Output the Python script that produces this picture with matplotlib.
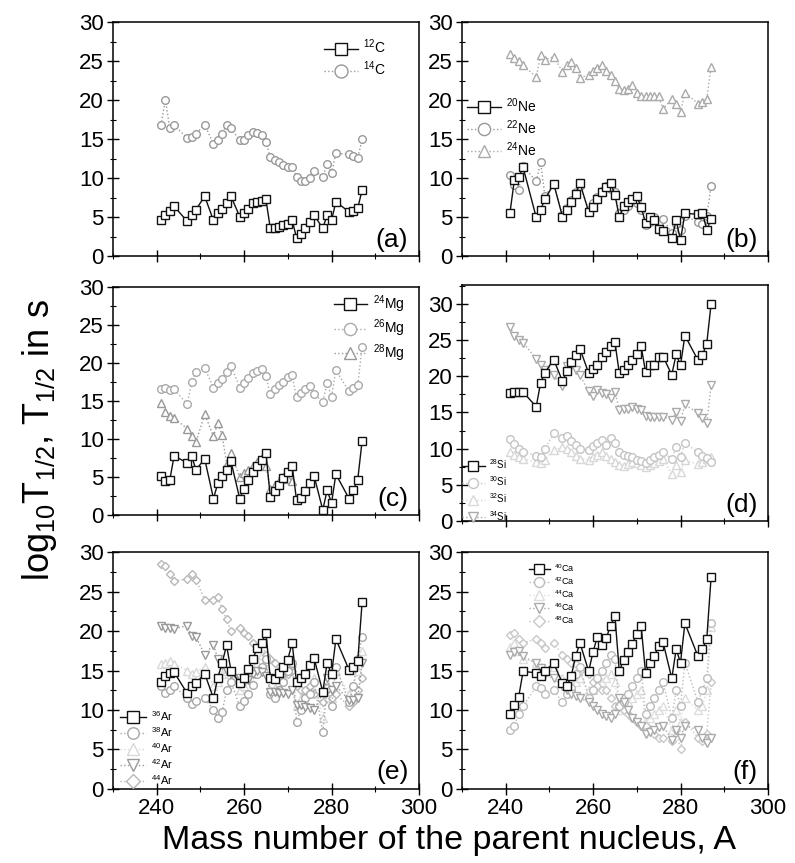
import numpy as np
import matplotlib
matplotlib.use('Agg')
import matplotlib.pyplot as plt
from matplotlib.ticker import MultipleLocator

nan = np.nan

# parent mass numbers (shared by every panel)
A = [241, 242, 243, 244, 247, 248, 249, 251, 253, 254, 255, 256, 257, 259, 260,
     261, 262, 263, 264, 265, 266, 267, 268, 269, 270, 271, 272, 273, 274, 275,
     276, 278, 279, 280, 281, 284, 285, 286, 287]

# (a) carbon
c12 = [4.6, 5.3, 5.8, 6.4, 4.5, 5.3, 6.0, 7.7, 4.6, 5.5, 6.1, 6.8, 7.7, 5.1, 5.5,
       6.1, 6.8, 7.0, 7.1, 7.3, 3.6, 3.6, 3.8, 4.0, 4.2, 4.6, 2.4, 2.9, 3.6, 4.4,
       5.3, 3.6, 5.3, 4.6, 7.0, 5.7, 5.8, 6.2, 8.5]
c14 = [16.8, 20.1, 16.5, 16.8, 15.2, 15.3, 15.7, 16.9, 14.4, 14.9, 15.7, 16.9, 16.4, 14.9, 14.9,
       15.5, 15.9, 15.8, 15.5, 14.7, 12.7, 12.3, 12.1, 11.7, 11.5, 11.5, 10.2, 9.7, 9.7, 10.0,
       11.0, 10.2, 11.9, 10.7, 13.2, 13.1, 12.9, 12.6, 15.0]

# (b) neon
ne20 = [5.6, 9.8, 10.2, 11.4, 5.0, 6.0, 7.3, 9.3, 5.1, 5.9, 7.0, 8.0, 9.4, 5.7, 6.3,
        7.3, 8.3, 8.9, 9.4, 7.9, 5.0, 6.4, 7.0, 7.3, 7.7, 6.3, 4.3, 5.1, 4.6, 3.5,
        3.3, 2.3, 4.6, 2.1, 5.5, 5.4, 5.6, 3.4, 4.8]
ne22 = [10.4, 9.2, 8.5, 11.6, 9.6, 12.1, 7.7, 9.3, 5.3, 6.2, 7.2, 8.2, 9.0, 6.0, 6.8,
        7.6, 8.4, 9.0, 8.6, 8.2, 5.5, 6.0, 6.5, 7.2, 6.8, 5.9, 4.0, 4.4, 5.0, 4.3,
        4.8, 3.0, 4.1, 3.4, 5.2, 4.4, 4.2, 5.2, 9.0]
ne24 = [26.0, 25.5, 25.0, 24.5, 23.0, 25.8, 25.2, 25.6, 23.7, 24.5, 24.9, 24.2, 22.9, 23.3, 23.8,
        24.2, 24.5, 23.8, 23.2, 22.5, 21.5, 21.3, 21.5, 22.0, 21.0, 20.6, 20.6, 20.5, 20.6, 20.5,
        18.9, 20.2, 19.5, 18.5, 21.0, 19.6, 19.8, 20.2, 24.3]

# (c) magnesium
mg24 = [5.2, 4.5, 4.6, 7.8, 6.9, 7.8, 6.0, 7.4, 2.2, 4.2, 5.1, 6.0, 7.1, 2.2, 3.5,
        4.6, 5.7, 6.5, 7.3, 8.2, 2.4, 3.2, 4.0, 4.9, 5.7, 6.5, 2.0, 2.3, 3.2, 4.2,
        5.2, 0.7, 3.3, 1.6, 5.4, 2.2, 3.3, 4.7, 9.8]
mg26 = [16.6, 16.8, 16.5, 16.6, 14.6, 17.5, 18.9, 19.4, 16.8, 17.4, 18.0, 18.9, 19.7, 16.8, 17.4,
        18.1, 18.7, 19.0, 19.2, 18.3, 15.9, 16.6, 17.2, 17.6, 18.2, 18.4, 15.5, 16.1, 16.6, 17.0,
        16.0, 14.9, 17.4, 15.6, 19.1, 16.3, 16.8, 17.2, 22.1]
mg28 = [14.8, 13.6, 13.1, 12.8, 11.4, 10.4, 9.6, 13.3, 10.4, 12.1, 10.5, 6.8, 8.2, 5.0, 5.5,
        6.0, 6.5, 7.0, 7.5, 6.5, 3.5, 4.0, 4.5, 5.0, 4.8, 4.5, nan, nan, nan, nan,
        nan, nan, nan, nan, nan, nan, nan, nan, nan]

# (d) silicon
si28 = [17.7, 17.8, 17.8, 17.8, 15.8, 19.1, 20.5, 22.3, 19.3, 20.7, 21.9, 22.9, 23.8, 20.4, 21.0,
        21.6, 22.7, 23.3, 24.1, 24.7, 20.4, 20.9, 21.6, 22.3, 23.0, 24.1, 20.6, 21.5, 21.5, 22.7,
        22.7, 20.2, 23.0, 21.5, 25.6, 22.2, 22.9, 24.5, 30.0]
si30 = [11.3, 10.6, 10.0, 9.6, 9.0, 8.8, 10.0, 12.1, 11.5, 11.8, 11.0, 10.5, 10.0, 9.8, 10.4,
        10.8, 11.2, 10.5, 11.5, 10.8, 9.5, 9.2, 9.0, 8.8, 8.5, 8.3, 8.0, 8.4, 8.8, 9.1,
        9.5, 8.6, 10.3, 8.9, 10.8, 9.5, 9.0, 8.7, 8.2]
si32 = [9.5, 9.2, 8.9, 8.6, 8.2, 8.0, 8.5, 9.8, 10.2, 9.9, 9.5, 9.0, 8.6, 8.5, 8.8,
        9.2, 9.6, 9.0, 8.6, 8.2, 7.8, 7.6, 7.9, 8.2, 8.0, 7.7, 7.5, 7.8, 8.0, 8.3,
        8.6, 6.5, 7.8, 6.8, 8.4, 7.9, 8.1, 8.6, 8.9]
si34 = [26.8, 25.5, 25.0, 24.6, 22.4, 21.6, 20.9, 20.1, 18.6, 21.4, 21.6, 20.9, 20.1, 17.9, 17.3,
        18.1, 17.7, 17.6, 17.0, 17.8, 15.4, 15.5, 15.5, 15.7, 15.5, 15.4, 14.5, 14.4, 14.4, 14.4,
        14.4, 14.0, 15.1, 13.8, 16.1, 14.9, 14.2, 13.5, 18.8]

# (e) argon
ar36 = [13.5, 14.3, 14.7, 14.8, 12.1, 13.0, 13.4, 14.6, 11.5, 14.1, 16.0, 18.2, 15.0, 13.4, 14.1,
        15.2, 16.5, 17.8, 18.5, 19.8, 14.0, 13.9, 14.7, 15.5, 16.4, 18.5, 13.5, 14.0, 14.6, 15.7,
        16.6, 12.3, 16.0, 14.5, 19.0, 15.1, 15.5, 16.2, 23.7]
ar38 = [13.0, 12.2, 12.5, 13.0, 11.5, 10.8, 11.2, 11.5, 10.0, 9.0, 9.8, 12.5, 13.5, 10.5, 11.2,
        12.0, 13.2, 14.5, 15.5, 16.5, 12.0, 11.5, 12.5, 13.5, 15.0, 16.0, 8.5, 10.0, 11.5, 12.0,
        13.5, 7.2, 12.8, 10.5, 15.5, 11.0, 13.0, 16.5, 19.3]
ar40 = [15.8, 16.0, 16.2, 15.8, 15.0, 14.5, 14.8, 15.5, 13.0, 13.5, 14.5, 15.0, 14.5, 12.5, 13.0,
        14.0, 15.0, 16.0, 17.0, 16.5, 12.5, 12.8, 13.5, 14.2, 15.0, 16.0, 10.5, 11.5, 12.5, 13.0,
        14.0, 9.0, 13.0, 11.5, 15.0, 12.0, 13.0, 15.0, 17.5]
ar42 = [20.7, 20.4, 20.4, 20.3, 20.7, 19.4, 19.3, 17.0, 18.3, 16.5, 15.7, 14.9, 14.5, 14.0, 13.5,
        13.8, 14.5, 15.0, 14.8, 14.3, 12.3, 12.3, 12.2, 12.1, 12.0, 12.5, 10.6, 10.6, 10.4, 10.2,
        10.0, 12.1, 14.0, 12.5, 13.0, 11.3, 11.3, 11.5, 16.0]
ar44 = [28.5, 28.3, 27.2, 26.4, 26.6, 27.2, 26.5, 24.0, 24.0, 24.3, 22.8, 21.5, 20.0, 20.4, 19.8,
        19.4, 18.5, 18.0, 18.5, 17.0, 16.5, 16.0, 15.0, 14.5, 14.5, 15.0, 13.0, 12.5, 12.5, 13.0,
        12.0, 11.0, 12.5, 11.5, 12.0, 10.5, 11.0, 12.5, 14.0]

# (f) calcium
ca40 = [9.5, 10.6, 11.7, 14.9, 14.7, 14.3, 15.0, 15.9, 13.4, 13.0, 14.3, 16.8, 18.5, 14.9, 17.4,
        19.3, 18.3, 19.1, 20.7, 21.9, 14.9, 16.4, 17.4, 18.4, 19.7, 20.6, 14.7, 16.0, 16.8, 18.1,
        18.6, 14.0, 17.7, 16.0, 21.0, 16.8, 17.7, 19.0, 26.9]
ca42 = [7.5, 8.0, 9.5, 10.5, 13.0, 12.8, 12.0, 12.5, 11.0, 12.0, 12.8, 14.5, 15.5, 11.5, 12.5,
        14.0, 15.0, 16.0, 17.0, 16.5, 10.5, 11.0, 12.0, 13.0, 14.0, 15.0, 9.5, 10.5, 11.5, 12.5,
        13.5, 9.0, 12.5, 10.5, 16.0, 11.0, 12.5, 14.0, 21.0]
ca44 = [18.0, 18.5, 17.5, 16.5, 16.0, 15.5, 15.0, 15.5, 14.0, 13.5, 13.0, 13.5, 14.0, 12.5, 12.5,
        13.0, 13.5, 14.0, 14.5, 13.5, 10.0, 10.5, 11.0, 11.5, 12.0, 12.5, 8.5, 9.0, 9.5, 10.0,
        10.5, 7.5, 10.0, 8.5, 11.5, 10.0, 10.5, 12.5, 20.5]
ca46 = [17.0, 17.3, 17.5, 16.8, 15.9, 15.3, 14.5, 14.0, 13.0, 12.5, 12.0, 11.8, 11.5, 11.0, 10.5,
        10.0, 9.5, 9.2, 9.0, 9.5, 11.5, 11.0, 10.0, 9.0, 8.5, 8.0, 7.0, 7.2, 7.5, 7.8,
        8.0, 6.2, 7.5, 6.5, 8.0, 7.5, 6.5, 5.8, 6.5]
ca48 = [19.5, 19.8, 19.0, 18.5, 19.0, 18.5, 17.8, 18.5, 17.0, 16.5, 16.0, 15.8, 15.0, 14.5, 13.5,
        13.0, 12.5, 12.5, 11.5, 10.5, 10.5, 10.0, 9.5, 9.0, 8.5, 8.0, 8.0, 7.5, 7.0, 6.5,
        6.5, 6.0, 7.5, 5.0, 8.5, 6.5, 6.0, 7.0, 13.5]

plt.rcParams['font.family'] = ['Liberation Sans', 'DejaVu Sans']
plt.rcParams['mathtext.fontset'] = 'custom'
plt.rcParams['mathtext.rm'] = 'Liberation Sans'
plt.rcParams['mathtext.it'] = 'Liberation Sans:italic'

fig = plt.figure(figsize=(7.95, 8.63), dpi=100)

# axes boxes in figure fractions (left, bottom, width, height)
boxes = {
    'a': [0.142, 0.703, 0.385, 0.271],
    'b': [0.581, 0.703, 0.385, 0.271],
    'c': [0.142, 0.403, 0.385, 0.264],
    'd': [0.581, 0.396, 0.385, 0.274],
    'e': [0.142, 0.086, 0.385, 0.274],
    'f': [0.581, 0.086, 0.385, 0.274],
}

# series: (values, label, marker, colour, linestyle, zorder)
panels = {
    'a': [(c12, '$^{12}$C', 's', '#111111', '-', 5),
          (c14, '$^{14}$C', 'o', '#999999', ':', 3)],
    'b': [(ne20, '$^{20}$Ne', 's', '#111111', '-', 5),
          (ne22, '$^{22}$Ne', 'o', '#999999', ':', 4),
          (ne24, '$^{24}$Ne', '^', '#aaaaaa', ':', 3)],
    'c': [(mg24, '$^{24}$Mg', 's', '#111111', '-', 5),
          (mg26, '$^{26}$Mg', 'o', '#aaaaaa', ':', 3),
          (mg28, '$^{28}$Mg', '^', '#999999', ':', 4)],
    'd': [(si28, '$^{28}$Si', 's', '#111111', '-', 5),
          (si30, '$^{30}$Si', 'o', '#c4c4c4', ':', 3),
          (si32, '$^{32}$Si', '^', '#d8d8d8', ':', 2),
          (si34, '$^{34}$Si', 'v', '#aaaaaa', ':', 4)],
    'e': [(ar36, '$^{36}$Ar', 's', '#111111', '-', 6),
          (ar38, '$^{38}$Ar', 'o', '#a8a8a8', ':', 4),
          (ar40, '$^{40}$Ar', '^', '#d8d8d8', ':', 2),
          (ar42, '$^{42}$Ar', 'v', '#999999', ':', 5),
          (ar44, '$^{44}$Ar', 'D', '#b8b8b8', ':', 3)],
    'f': [(ca40, '$^{40}$Ca', 's', '#111111', '-', 6),
          (ca42, '$^{42}$Ca', 'o', '#bbbbbb', ':', 4),
          (ca44, '$^{44}$Ca', '^', '#dddddd', ':', 2),
          (ca46, '$^{46}$Ca', 'v', '#aaaaaa', ':', 5),
          (ca48, '$^{48}$Ca', 'D', '#c8c8c8', ':', 3)],
}

# legend placement: (loc, anchor, fontsize, markerscale, labelspacing)
legends = {
    'a': ('upper right', (0.92, 0.97), 10, 1.7, 0.25),
    'b': ('upper left', (-0.01, 0.72), 10, 1.6, 0.25),
    'c': ('upper right', (0.98, 1.01), 10, 1.6, 0.2),
    'd': ('lower left', (-0.02, -0.03), 7, 1.3, 0.35),
    'e': ('lower left', (0.0, -0.02), 8, 1.5, 0.2),
    'f': ('upper left', (0.2, 0.98), 6.5, 1.3, 0.15),
}

for key, box in boxes.items():
    ax = fig.add_axes(box)
    for vals, lab, mk, col, ls, z in panels[key]:
        ms = 4.5 if mk == 'D' else 5.5
        ax.plot(A, vals, marker=mk, ms=ms, mfc='white', mec=col, mew=1.0,
                color=col, ls=ls, lw=1.0, label=lab, zorder=z)
    ax.set_xlim(230, 300)
    ax.set_ylim(0, 32.6 if key == 'd' else 30)
    ax.xaxis.set_major_locator(MultipleLocator(20))
    ax.xaxis.set_minor_locator(MultipleLocator(10))
    ax.yaxis.set_major_locator(MultipleLocator(5))
    ax.yaxis.set_minor_locator(MultipleLocator(2.5))
    ax.tick_params(which='major', direction='inout', length=9, width=1.0,
                   labelsize=16, pad=2)
    ax.tick_params(which='minor', direction='inout', length=5, width=0.8)
    if key not in ('e', 'f'):
        ax.tick_params(axis='x', labelbottom=False)
    for sp in ax.spines.values():
        sp.set_linewidth(1.1)
    loc, anchor, fs, mscale, lsp = legends[key]
    ax.legend(loc=loc, bbox_to_anchor=anchor, frameon=False, fontsize=fs,
              markerscale=mscale, handlelength=2.4, handletextpad=0.4,
              labelspacing=lsp, borderaxespad=0.2)
    ax.text(0.965, 0.02, '(%s)' % key, transform=ax.transAxes, ha='right',
            va='bottom', fontsize=19)

fig.text(0.05, 0.49, r'log$_{10}$T$_{1/2}$, T$_{1/2}$ in s', rotation=90,
         ha='center', va='center', fontsize=26)
fig.text(0.565, 0.026, 'Mass number of the parent nucleus, A', ha='center',
         va='center', fontsize=24.5)

fig.savefig('out.png', dpi=100)
